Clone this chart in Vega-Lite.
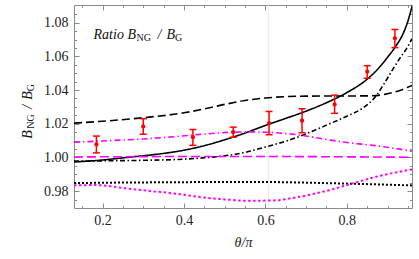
{
  "$schema": "https://vega.github.io/schema/vega-lite/v6.json",
  "width": 338,
  "height": 203,
  "autosize": {"type": "none"},
  "padding": {"left": 74, "top": 5, "right": 7, "bottom": 51},
  "background": "white",
  "config": {
    "view": {"stroke": "#8a8a8a", "strokeWidth": 1},
    "axis": {"domain": false, "grid": false, "tickColor": "#8a8a8a", "tickWidth": 1, "labelFont": "Liberation Serif", "labelFontSize": 14, "labelColor": "#222222", "labelFlush": false, "titleFont": "Liberation Serif"}
  },
  "datasets": {
    "curves": [
      {"s": "solid", "x": 0.13, "y": 0.9973}, {"s": "solid", "x": 0.2, "y": 0.9985}, {"s": "solid", "x": 0.26, "y": 1.0}, {"s": "solid", "x": 0.3, "y": 1.001}, {"s": "solid", "x": 0.35, "y": 1.0024}, {"s": "solid", "x": 0.4, "y": 1.0043}, {"s": "solid", "x": 0.45, "y": 1.007}, {"s": "solid", "x": 0.5, "y": 1.0105}, {"s": "solid", "x": 0.55, "y": 1.0145}, {"s": "solid", "x": 0.6, "y": 1.019}, {"s": "solid", "x": 0.65, "y": 1.0232}, {"s": "solid", "x": 0.7, "y": 1.0275}, {"s": "solid", "x": 0.75, "y": 1.0325}, {"s": "solid", "x": 0.8, "y": 1.0385}, {"s": "solid", "x": 0.85, "y": 1.0465}, {"s": "solid", "x": 0.88, "y": 1.0535}, {"s": "solid", "x": 0.9, "y": 1.0595}, {"s": "solid", "x": 0.92, "y": 1.066}, {"s": "solid", "x": 0.94, "y": 1.0745}, {"s": "solid", "x": 0.95, "y": 1.081}, {"s": "solid", "x": 0.96, "y": 1.0895}, {"s": "solid", "x": 0.97, "y": 1.099},
      {"s": "dashed", "x": 0.13, "y": 1.0204}, {"s": "dashed", "x": 0.2, "y": 1.0215}, {"s": "dashed", "x": 0.3, "y": 1.0236}, {"s": "dashed", "x": 0.4, "y": 1.0265}, {"s": "dashed", "x": 0.45, "y": 1.0288}, {"s": "dashed", "x": 0.5, "y": 1.0315}, {"s": "dashed", "x": 0.55, "y": 1.0338}, {"s": "dashed", "x": 0.6, "y": 1.0353}, {"s": "dashed", "x": 0.65, "y": 1.0361}, {"s": "dashed", "x": 0.7, "y": 1.0364}, {"s": "dashed", "x": 0.8, "y": 1.0365}, {"s": "dashed", "x": 0.86, "y": 1.0366}, {"s": "dashed", "x": 0.9, "y": 1.0378}, {"s": "dashed", "x": 0.93, "y": 1.0398}, {"s": "dashed", "x": 0.96, "y": 1.0428},
      {"s": "dashdot", "x": 0.13, "y": 0.9978}, {"s": "dashdot", "x": 0.2, "y": 0.998}, {"s": "dashdot", "x": 0.3, "y": 0.9983}, {"s": "dashdot", "x": 0.4, "y": 0.999}, {"s": "dashdot", "x": 0.45, "y": 0.9998}, {"s": "dashdot", "x": 0.5, "y": 1.001}, {"s": "dashdot", "x": 0.55, "y": 1.003}, {"s": "dashdot", "x": 0.6, "y": 1.0062}, {"s": "dashdot", "x": 0.65, "y": 1.0097}, {"s": "dashdot", "x": 0.7, "y": 1.014}, {"s": "dashdot", "x": 0.75, "y": 1.0192}, {"s": "dashdot", "x": 0.8, "y": 1.0245}, {"s": "dashdot", "x": 0.84, "y": 1.0295}, {"s": "dashdot", "x": 0.87, "y": 1.036}, {"s": "dashdot", "x": 0.89, "y": 1.0432}, {"s": "dashdot", "x": 0.91, "y": 1.0512}, {"s": "dashdot", "x": 0.93, "y": 1.0588}, {"s": "dashdot", "x": 0.95, "y": 1.066}, {"s": "dashdot", "x": 0.96, "y": 1.0705},
      {"s": "mdashdot", "x": 0.13, "y": 1.0091}, {"s": "mdashdot", "x": 0.2, "y": 1.0098}, {"s": "mdashdot", "x": 0.3, "y": 1.011}, {"s": "mdashdot", "x": 0.38, "y": 1.0124}, {"s": "mdashdot", "x": 0.44, "y": 1.0137}, {"s": "mdashdot", "x": 0.51, "y": 1.0149}, {"s": "mdashdot", "x": 0.56, "y": 1.0152}, {"s": "mdashdot", "x": 0.6, "y": 1.015}, {"s": "mdashdot", "x": 0.65, "y": 1.0142}, {"s": "mdashdot", "x": 0.69, "y": 1.0131}, {"s": "mdashdot", "x": 0.76, "y": 1.0103}, {"s": "mdashdot", "x": 0.8, "y": 1.0089}, {"s": "mdashdot", "x": 0.87, "y": 1.007}, {"s": "mdashdot", "x": 0.92, "y": 1.0053}, {"s": "mdashdot", "x": 0.96, "y": 1.0037},
      {"s": "mdashed", "x": 0.13, "y": 1.0003}, {"s": "mdashed", "x": 0.3, "y": 1.0005}, {"s": "mdashed", "x": 0.5, "y": 1.0006}, {"s": "mdashed", "x": 0.7, "y": 1.0005}, {"s": "mdashed", "x": 0.85, "y": 1.0003}, {"s": "mdashed", "x": 0.96, "y": 1.0001},
      {"s": "dotted", "x": 0.13, "y": 0.9848}, {"s": "dotted", "x": 0.25, "y": 0.9851}, {"s": "dotted", "x": 0.38, "y": 0.9853}, {"s": "dotted", "x": 0.55, "y": 0.9855}, {"s": "dotted", "x": 0.65, "y": 0.9853}, {"s": "dotted", "x": 0.76, "y": 0.9847}, {"s": "dotted", "x": 0.86, "y": 0.9841}, {"s": "dotted", "x": 0.96, "y": 0.9834},
      {"s": "mdotted", "x": 0.13, "y": 0.9834}, {"s": "mdotted", "x": 0.18, "y": 0.9836}, {"s": "mdotted", "x": 0.26, "y": 0.9816}, {"s": "mdotted", "x": 0.3, "y": 0.9805}, {"s": "mdotted", "x": 0.38, "y": 0.9785}, {"s": "mdotted", "x": 0.45, "y": 0.9762}, {"s": "mdotted", "x": 0.5, "y": 0.9751}, {"s": "mdotted", "x": 0.56, "y": 0.9743}, {"s": "mdotted", "x": 0.62, "y": 0.9745}, {"s": "mdotted", "x": 0.68, "y": 0.9765}, {"s": "mdotted", "x": 0.73, "y": 0.979}, {"s": "mdotted", "x": 0.76, "y": 0.9808}, {"s": "mdotted", "x": 0.81, "y": 0.9843}, {"s": "mdotted", "x": 0.88, "y": 0.989}, {"s": "mdotted", "x": 0.96, "y": 0.9929}
    ],
    "points": [
      {"x": 0.185, "y": 1.0077, "lo": 1.0027, "hi": 1.0127},
      {"x": 0.300, "y": 1.0184, "lo": 1.0138, "hi": 1.023},
      {"x": 0.422, "y": 1.012, "lo": 1.0072, "hi": 1.0166},
      {"x": 0.521, "y": 1.015, "lo": 1.012, "hi": 1.018},
      {"x": 0.609, "y": 1.0204, "lo": 1.0135, "hi": 1.0273},
      {"x": 0.690, "y": 1.0218, "lo": 1.0147, "hi": 1.0289},
      {"x": 0.770, "y": 1.0315, "lo": 1.0262, "hi": 1.037},
      {"x": 0.850, "y": 1.0509, "lo": 1.047, "hi": 1.0545},
      {"x": 0.918, "y": 1.0707, "lo": 1.0652, "hi": 1.076}
    ]
  },
  "resolve": {"axis": {"x": "independent", "y": "independent"}},
  "layer": [
    {
      "data": {"values": [{"g": 0.607}]},
      "mark": {"type": "rule", "color": "#e6e6e6", "strokeWidth": 1},
      "encoding": {
        "x": {"field": "g", "type": "quantitative", "scale": {"domain": [0.13, 0.96], "nice": false, "zero": false}, "axis": null}
      }
    },
    {
      "data": {"name": "curves"},
      "mark": {"type": "line", "interpolate": "monotone", "clip": true},
      "encoding": {
        "x": {"field": "x", "type": "quantitative", "scale": {"domain": [0.13, 0.96], "nice": false, "zero": false},
          "axis": {"orient": "bottom", "values": [0.2, 0.4, 0.6, 0.8], "format": ".1f", "tickSize": -5, "labelPadding": 21, "labelBaseline": "alphabetic", "title": "θ/π", "titleFontStyle": "italic", "titleFontSize": 14, "titleFontWeight": "normal", "titleColor": "#222222", "titleY": 38, "titleBaseline": "alphabetic"}},
        "y": {"field": "y", "type": "quantitative", "scale": {"domain": [0.97, 1.0905], "nice": false, "zero": false},
          "axis": {"orient": "left", "values": [0.98, 1.0, 1.02, 1.04, 1.06, 1.08], "format": ".2f", "tickSize": -5, "labelPadding": 11, "title": null}},
        "color": {"field": "s", "type": "nominal", "legend": null,
          "scale": {"domain": ["solid", "dashed", "dashdot", "mdashdot", "mdashed", "dotted", "mdotted"], "range": ["#000000", "#000000", "#000000", "#ff00ff", "#ff00ff", "#000000", "#ff00ff"]}},
        "strokeDash": {"field": "s", "type": "nominal", "legend": null,
          "scale": {"domain": ["solid", "dashed", "dashdot", "mdashdot", "mdashed", "dotted", "mdotted"], "range": [[1, 0], [8, 4], [5, 2.5, 1.5, 2.5], [6, 3, 1.5, 3], [9, 4], [2, 2], [2.5, 2.5]]}},
        "strokeWidth": {"field": "s", "type": "nominal", "legend": null,
          "scale": {"type": "ordinal", "domain": ["solid", "dashed", "dashdot", "mdashdot", "mdashed", "dotted", "mdotted"], "range": [1.6, 1.6, 1.6, 1.6, 1.6, 2, 2]}}
      }
    },
    {
      "data": {"name": "points"},
      "mark": {"type": "rule", "color": "#ff0000", "strokeWidth": 1.5},
      "encoding": {
        "x": {"field": "x", "type": "quantitative", "scale": {"domain": [0.13, 0.96], "nice": false, "zero": false},
          "axis": {"orient": "top", "values": [0.2, 0.4, 0.6, 0.8], "tickSize": -5, "labels": false, "title": null}},
        "y": {"field": "lo", "type": "quantitative", "scale": {"domain": [0.97, 1.0905], "nice": false, "zero": false},
          "axis": {"orient": "right", "values": [0.98, 1.0, 1.02, 1.04, 1.06, 1.08], "tickSize": -5, "labels": false, "title": null}},
        "y2": {"field": "hi"}
      }
    },
    {
      "data": {"name": "points"},
      "mark": {"type": "tick", "color": "#ff0000", "orient": "horizontal", "size": 7, "thickness": 1.5, "opacity": 1},
      "encoding": {
        "x": {"field": "x", "type": "quantitative", "scale": {"domain": [0.13, 0.96], "nice": false, "zero": false},
          "axis": {"orient": "bottom", "values": [0.15, 0.25, 0.3, 0.35, 0.45, 0.5, 0.55, 0.65, 0.7, 0.75, 0.85, 0.9, 0.95], "tickSize": -2.5, "labels": false, "title": null}},
        "y": {"field": "lo", "type": "quantitative", "scale": {"domain": [0.97, 1.0905], "nice": false, "zero": false},
          "axis": {"orient": "left", "values": [0.975, 0.985, 0.99, 0.995, 1.005, 1.01, 1.015, 1.025, 1.03, 1.035, 1.045, 1.05, 1.055, 1.065, 1.07, 1.075, 1.085], "tickSize": -2.5, "labels": false, "title": null}}
      }
    },
    {
      "data": {"name": "points"},
      "mark": {"type": "tick", "color": "#ff0000", "orient": "horizontal", "size": 7, "thickness": 1.5, "opacity": 1},
      "encoding": {
        "x": {"field": "x", "type": "quantitative", "scale": {"domain": [0.13, 0.96], "nice": false, "zero": false}, "axis": null},
        "y": {"field": "hi", "type": "quantitative", "scale": {"domain": [0.97, 1.0905], "nice": false, "zero": false}, "axis": null}
      }
    },
    {
      "data": {"name": "points"},
      "mark": {"type": "point", "filled": true, "shape": "circle", "size": 18, "color": "#ff0000", "opacity": 1},
      "encoding": {
        "x": {"field": "x", "type": "quantitative", "scale": {"domain": [0.13, 0.96], "nice": false, "zero": false},
          "axis": {"orient": "top", "values": [0.15, 0.25, 0.3, 0.35, 0.45, 0.5, 0.55, 0.65, 0.7, 0.75, 0.85, 0.9, 0.95], "tickSize": -2.5, "labels": false, "title": null}},
        "y": {"field": "y", "type": "quantitative", "scale": {"domain": [0.97, 1.0905], "nice": false, "zero": false},
          "axis": {"orient": "right", "values": [0.975, 0.985, 0.99, 0.995, 1.005, 1.01, 1.015, 1.025, 1.03, 1.035, 1.045, 1.05, 1.055, 1.065, 1.07, 1.075, 1.085], "tickSize": -2.5, "labels": false, "title": null}}
      }
    },
    {
      "data": {"values": [{"t": "Ratio B"}]},
      "mark": {"type": "text", "font": "Liberation Serif", "fontSize": 14, "fontStyle": "italic", "align": "left", "baseline": "alphabetic", "color": "#111111"},
      "encoding": {
        "x": {"datum": 0.178, "type": "quantitative", "scale": {"domain": [0.13, 0.96], "nice": false, "zero": false}, "axis": null},
        "y": {"datum": 1.0701, "type": "quantitative", "scale": {"domain": [0.97, 1.0905], "nice": false, "zero": false}, "axis": null},
        "text": {"field": "t"}
      }
    },
    {
      "data": {"values": [{"t": "NG"}]},
      "mark": {"type": "text", "font": "Liberation Serif", "fontSize": 10, "align": "left", "baseline": "alphabetic", "color": "#111111", "dx": 43, "dy": 2},
      "encoding": {
        "x": {"datum": 0.178, "type": "quantitative", "scale": {"domain": [0.13, 0.96], "nice": false, "zero": false}, "axis": null},
        "y": {"datum": 1.0701, "type": "quantitative", "scale": {"domain": [0.97, 1.0905], "nice": false, "zero": false}, "axis": null},
        "text": {"field": "t"}
      }
    },
    {
      "data": {"values": [{"t": "/"}]},
      "mark": {"type": "text", "font": "Liberation Serif", "fontSize": 14, "fontStyle": "italic", "align": "left", "baseline": "alphabetic", "color": "#111111", "dx": 64},
      "encoding": {
        "x": {"datum": 0.178, "type": "quantitative", "scale": {"domain": [0.13, 0.96], "nice": false, "zero": false}, "axis": null},
        "y": {"datum": 1.0701, "type": "quantitative", "scale": {"domain": [0.97, 1.0905], "nice": false, "zero": false}, "axis": null},
        "text": {"field": "t"}
      }
    },
    {
      "data": {"values": [{"t": "B"}]},
      "mark": {"type": "text", "font": "Liberation Serif", "fontSize": 14, "fontStyle": "italic", "align": "left", "baseline": "alphabetic", "color": "#111111", "dx": 73},
      "encoding": {
        "x": {"datum": 0.178, "type": "quantitative", "scale": {"domain": [0.13, 0.96], "nice": false, "zero": false}, "axis": null},
        "y": {"datum": 1.0701, "type": "quantitative", "scale": {"domain": [0.97, 1.0905], "nice": false, "zero": false}, "axis": null},
        "text": {"field": "t"}
      }
    },
    {
      "data": {"values": [{"t": "G"}]},
      "mark": {"type": "text", "font": "Liberation Serif", "fontSize": 10, "align": "left", "baseline": "alphabetic", "color": "#111111", "dx": 81.5, "dy": 2},
      "encoding": {
        "x": {"datum": 0.178, "type": "quantitative", "scale": {"domain": [0.13, 0.96], "nice": false, "zero": false}, "axis": null},
        "y": {"datum": 1.0701, "type": "quantitative", "scale": {"domain": [0.97, 1.0905], "nice": false, "zero": false}, "axis": null},
        "text": {"field": "t"}
      }
    },
    {
      "data": {"values": [{"t": "B"}]},
      "mark": {"type": "text", "font": "Liberation Serif", "fontSize": 14, "fontStyle": "italic", "align": "left", "baseline": "alphabetic", "color": "#111111", "angle": 270, "dx": 0, "dy": -42},
      "encoding": {
        "x": {"datum": 0.13, "type": "quantitative", "scale": {"domain": [0.13, 0.96], "nice": false, "zero": false}, "axis": null},
        "y": {"datum": 1.0111, "type": "quantitative", "scale": {"domain": [0.97, 1.0905], "nice": false, "zero": false}, "axis": null},
        "text": {"field": "t"}
      }
    },
    {
      "data": {"values": [{"t": "NG"}]},
      "mark": {"type": "text", "font": "Liberation Serif", "fontSize": 10, "align": "left", "baseline": "alphabetic", "color": "#111111", "angle": 270, "dx": 10, "dy": -40},
      "encoding": {
        "x": {"datum": 0.13, "type": "quantitative", "scale": {"domain": [0.13, 0.96], "nice": false, "zero": false}, "axis": null},
        "y": {"datum": 1.0111, "type": "quantitative", "scale": {"domain": [0.97, 1.0905], "nice": false, "zero": false}, "axis": null},
        "text": {"field": "t"}
      }
    },
    {
      "data": {"values": [{"t": "/"}]},
      "mark": {"type": "text", "font": "Liberation Serif", "fontSize": 14, "fontStyle": "italic", "align": "left", "baseline": "alphabetic", "color": "#111111", "angle": 270, "dx": 30, "dy": -42},
      "encoding": {
        "x": {"datum": 0.13, "type": "quantitative", "scale": {"domain": [0.13, 0.96], "nice": false, "zero": false}, "axis": null},
        "y": {"datum": 1.0111, "type": "quantitative", "scale": {"domain": [0.97, 1.0905], "nice": false, "zero": false}, "axis": null},
        "text": {"field": "t"}
      }
    },
    {
      "data": {"values": [{"t": "B"}]},
      "mark": {"type": "text", "font": "Liberation Serif", "fontSize": 14, "fontStyle": "italic", "align": "left", "baseline": "alphabetic", "color": "#111111", "angle": 270, "dx": 39, "dy": -42},
      "encoding": {
        "x": {"datum": 0.13, "type": "quantitative", "scale": {"domain": [0.13, 0.96], "nice": false, "zero": false}, "axis": null},
        "y": {"datum": 1.0111, "type": "quantitative", "scale": {"domain": [0.97, 1.0905], "nice": false, "zero": false}, "axis": null},
        "text": {"field": "t"}
      }
    },
    {
      "data": {"values": [{"t": "G"}]},
      "mark": {"type": "text", "font": "Liberation Serif", "fontSize": 10, "align": "left", "baseline": "alphabetic", "color": "#111111", "angle": 270, "dx": 47.5, "dy": -40},
      "encoding": {
        "x": {"datum": 0.13, "type": "quantitative", "scale": {"domain": [0.13, 0.96], "nice": false, "zero": false}, "axis": null},
        "y": {"datum": 1.0111, "type": "quantitative", "scale": {"domain": [0.97, 1.0905], "nice": false, "zero": false}, "axis": null},
        "text": {"field": "t"}
      }
    }
  ]
}
